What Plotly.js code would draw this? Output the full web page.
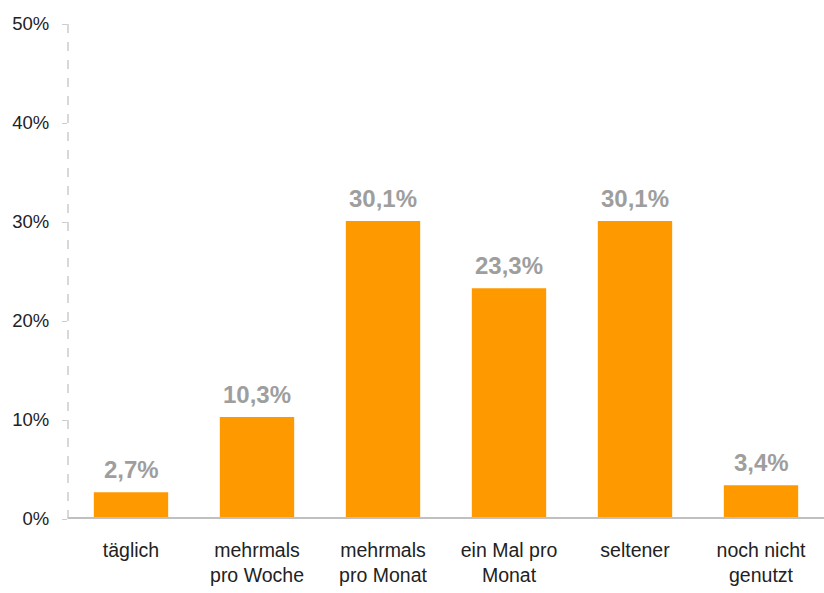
<!DOCTYPE html>
<html>
<head>
<meta charset="utf-8">
<script src="https://cdn.plot.ly/plotly-3.0.1.min.js"></script>
<style>html,body{margin:0;padding:0;background:#fff;}#chart{width:824px;height:593px;}</style>
</head>
<body>
<div id="chart"></div>
<script>
const categories = ["täglich", "mehrmals<br>pro Woche", "mehrmals<br>pro Monat", "ein Mal pro<br>Monat", "seltener", "noch nicht<br>genutzt"];
const values = [2.7, 10.3, 30.1, 23.3, 30.1, 3.4];
const valueLabels = ["2,7%", "10,3%", "30,1%", "23,3%", "30,1%", "3,4%"];
const tickValues = [0, 10, 20, 30, 40, 50];
const tickLabels = ["0%", "10%", "20%", "30%", "40%", "50%"];

const trace = {
  type: "bar",
  x: categories,
  y: values,
  marker: {color: "#FF9900"},
  hoverinfo: "none"
};

const annotations = categories.map((c, i) => ({
  x: c, y: values[i], xref: "x", yref: "y",
  text: valueLabels[i], showarrow: false,
  yanchor: "bottom", yshift: 7,
  font: {family: "Liberation Sans, Arial, sans-serif", size: 24, color: "#9e9e9e", weight: "bold"}
}));

const layout = {
  width: 824, height: 593,
  margin: {l: 68, r: 0, t: 24, b: 74},
  paper_bgcolor: "#fff", plot_bgcolor: "#fff",
  showlegend: false,
  bargap: 0.41,
  font: {family: "Liberation Sans, Arial, sans-serif", color: "#222"},
  xaxis: {
    type: "category",
    tickfont: {size: 19.5, color: "#222"},
    ticks: "", showgrid: false, showline: false, zeroline: false,
    ticklabelstandoff: 17,
    range: [-0.5, 5.5]
  },
  yaxis: {
    range: [0, 50],
    tickvals: tickValues, ticktext: tickLabels,
    tickfont: {size: 18.5, color: "#222"},
    ticks: "outside", ticklen: 5, tickcolor: "#cccccc", tickwidth: 1,
    ticklabelstandoff: 9,
    showgrid: false, zeroline: false, showline: false
  },
  shapes: [
    {type: "line", xref: "paper", yref: "y", x0: 0, x1: 0, y0: 0, y1: 50,
     line: {color: "#cccccc", width: 1.5, dash: "dash"}},
    {type: "line", xref: "paper", yref: "y", x0: 0, x1: 1, y0: 0, y1: 0,
     layer: "above", line: {color: "#c0c0c0", width: 4}}
  ],
  annotations: annotations
};

Plotly.newPlot("chart", [trace], layout, {displayModeBar: false, staticPlot: true});
</script>
</body>
</html>
